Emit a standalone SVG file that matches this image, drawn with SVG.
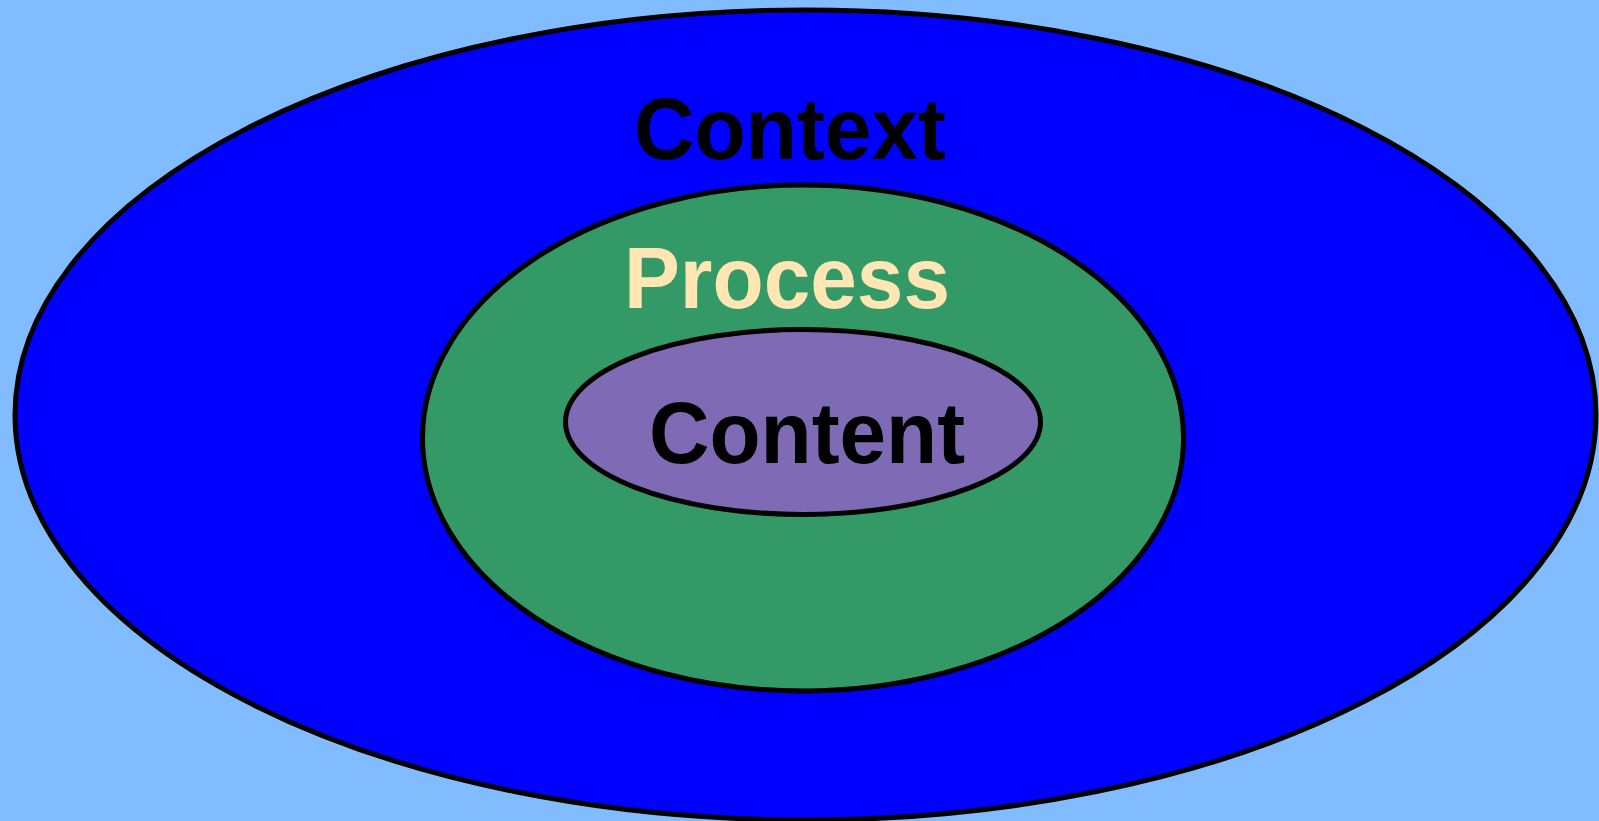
<svg xmlns="http://www.w3.org/2000/svg" width="1599" height="821" viewBox="0 0 1599 821">
<style>
.ring{stroke:#000;stroke-width:5}
.lbl{font-family:"Liberation Sans",Arial,sans-serif;font-weight:bold;font-size:88px}
</style>
<rect width="1599" height="821" fill="#80BCFF"/>
<g id="context">
<ellipse class="ring" cx="805.5" cy="415" rx="790.5" ry="405" fill="#0000FF"/>
<text class="lbl" x="634" y="159" textLength="312" lengthAdjust="spacingAndGlyphs" fill="#000">Context</text>
</g>
<g id="process">
<ellipse class="ring" cx="803" cy="438" rx="380.5" ry="253" fill="#339966"/>
<text class="lbl" x="624" y="308" textLength="326" lengthAdjust="spacingAndGlyphs" fill="#FFE6B3">Process</text>
</g>
<g id="content">
<ellipse class="ring" cx="803" cy="422" rx="237.5" ry="92.5" fill="#7F6BB5"/>
<text class="lbl" x="649" y="463" textLength="316" lengthAdjust="spacingAndGlyphs" fill="#000">Content</text>
</g>
<g id="connectors"/>
</svg>
